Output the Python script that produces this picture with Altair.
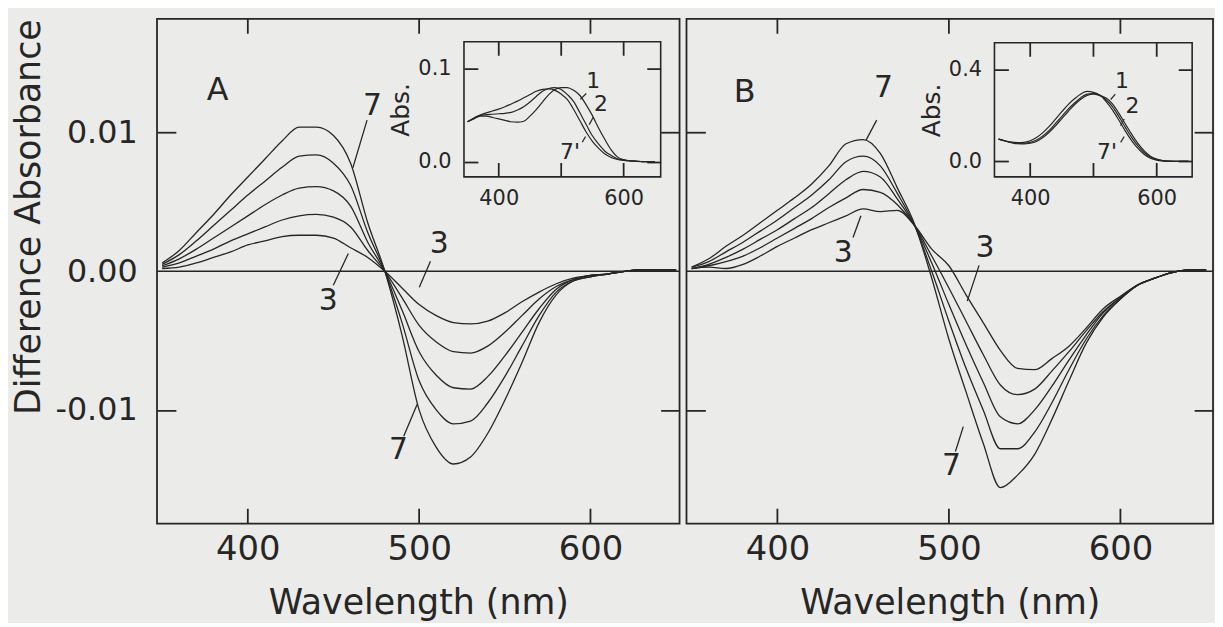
import altair as alt
import pandas as pd

INK = "#262626"
BG = "#ebebe9"
FONT = "DejaVu Sans"

# wavelength grid (nm)
WAVELENGTH = [350, 360, 370, 380, 390, 400, 410, 420, 430, 440, 450,
              460, 470, 480, 490, 500, 510, 520, 530, 540, 550,
              560, 570, 580, 590, 600, 610, 620, 630, 640, 650]

# ---- Panel A difference spectra (units of 1e-3 absorbance) ----
A_3 = [0.2, 0.3, 0.6, 1.0, 1.4, 1.9, 2.2, 2.5, 2.6, 2.6, 2.4, 1.7, 1.0, 0.0, -1.2, -2.4,
       -3.2, -3.7, -3.8, -3.6, -3.0, -2.2, -1.5, -0.9, -0.5, -0.3, -0.2, 0.0, 0.1, 0.1, 0.1]
A_4 = [0.3, 0.6, 1.1, 1.6, 2.2, 2.7, 3.2, 3.7, 4.0, 4.1, 3.9, 3.2, 1.5, 0.0, -1.9, -3.9,
       -5.1, -5.8, -5.9, -5.4, -4.4, -3.2, -2.0, -1.1, -0.6, -0.3, -0.2, 0.0, 0.1, 0.1, 0.1]
A_5 = [0.4, 0.9, 1.6, 2.4, 3.2, 4.0, 4.8, 5.5, 6.0, 6.1, 5.8, 4.7, 2.1, 0.0, -2.8, -5.8,
       -7.5, -8.4, -8.5, -7.6, -6.1, -4.4, -2.7, -1.3, -0.6, -0.3, -0.2, 0.0, 0.1, 0.1, 0.1]
A_6 = [0.5, 1.2, 2.2, 3.3, 4.4, 5.5, 6.5, 7.5, 8.3, 8.4, 7.8, 6.2, 2.8, 0.0, -3.7, -7.9,
       -10.0, -11.0, -10.8, -9.5, -7.6, -5.4, -3.2, -1.5, -0.7, -0.4, -0.2, 0.0, 0.1, 0.1, 0.1]
A_7 = [0.6, 1.5, 2.8, 4.1, 5.5, 6.8, 8.1, 9.4, 10.4, 10.4, 9.8, 7.8, 3.5, 0.0, -4.6, -10.0,
       -12.7, -13.9, -13.4, -11.7, -9.3, -6.6, -3.7, -1.7, -0.7, -0.4, -0.2, 0.0, 0.1, 0.1, 0.1]

# ---- Panel B difference spectra (units of 1e-3 absorbance) ----
B_3 = [0.2, 0.3, 0.2, 0.5, 1.1, 1.8, 2.4, 3.0, 3.5, 4.0, 4.5, 4.3, 4.4, 3.3, 1.6, 0.4,
       -1.7, -3.7, -5.7, -7.0, -7.1, -6.3, -5.4, -4.1, -2.7, -1.8, -1.0, -0.5, -0.1, 0.1, 0.1]
B_4 = [0.2, 0.4, 0.7, 1.1, 1.7, 2.4, 3.1, 3.8, 4.6, 5.3, 5.9, 5.7, 4.8, 3.3, 1.1, -1.2,
       -3.6, -6.0, -8.2, -8.9, -8.5, -7.2, -5.8, -4.3, -2.9, -1.9, -1.0, -0.5, -0.1, 0.1, 0.1]
B_5 = [0.2, 0.5, 1.0, 1.6, 2.3, 3.0, 3.8, 4.6, 5.6, 6.6, 7.2, 6.8, 5.2, 3.3, 0.6, -2.4,
       -5.3, -8.0, -10.5, -11.0, -10.0, -8.3, -6.4, -4.6, -3.0, -1.9, -1.0, -0.5, -0.1, 0.1, 0.1]
B_6 = [0.3, 0.7, 1.4, 2.1, 2.9, 3.7, 4.6, 5.5, 6.6, 7.9, 8.3, 7.6, 5.6, 3.3, 0.0, -3.6,
       -7.0, -10.0, -12.8, -12.8, -11.6, -9.5, -7.1, -4.9, -3.2, -2.0, -1.0, -0.5, -0.1, 0.1, 0.1]
B_7 = [0.3, 0.9, 1.8, 2.6, 3.5, 4.4, 5.3, 6.3, 7.6, 9.2, 9.5, 8.5, 6.0, 3.4, -0.5, -4.9,
       -8.7, -12.4, -15.6, -14.7, -13.2, -10.7, -7.9, -5.2, -3.3, -2.0, -1.0, -0.5, -0.1, 0.1, 0.1]

# ---- Inset absorption spectra (units of 1e-3 absorbance) ----
IA_1 = [43, 46, 49, 49, 47.5, 46, 44.5, 43, 42.5, 43.5, 49, 56, 64, 72, 77.5, 79.5,
        79.5, 76.5, 71, 61, 49.5, 36, 24, 13, 5.5, 2.5, 1.5, 1.0, 0.5, 0.3, 0.2]
IA_2 = [43, 46.5, 49.5, 50.5, 51, 51.5, 52, 53, 55.5, 59, 64, 70, 75.5, 78.5, 79.5, 77.5,
        72, 64.5, 52.5, 40, 28, 19, 11.5, 7, 3.5, 2, 1.2, 0.8, 0.5, 0.3, 0.2]
IA_7P = [43, 47, 50, 52.5, 54.5, 56.5, 59, 62, 65, 68.5, 72, 75.5, 77.5, 78, 76.5, 72.5,
         66.5, 56, 44, 32, 22, 14.5, 8.5, 4.8, 2.8, 1.8, 1.1, 0.7, 0.5, 0.3, 0.2]

IB_1 = [97, 89, 82, 77, 76, 79, 87, 104, 127, 155, 186, 217, 246, 270, 287, 292,
        286, 275, 250, 210, 165, 120, 80, 47, 23, 10, 4, 1.5, 0.6, 0.3, 0.2]
IB_2 = [97, 89, 83, 79, 79, 83, 93, 111, 135, 165, 196, 227, 254, 277, 292, 295,
        288, 268, 238, 196, 150, 106, 69, 39, 19, 8, 3, 1.2, 0.5, 0.3, 0.2]
IB_7P = [97, 90, 84, 82, 83, 90, 104, 125, 152, 184, 216, 247, 272, 293, 304, 300,
         288, 260, 224, 180, 134, 92, 58, 31, 14, 6, 2.5, 1, 0.5, 0.3, 0.2]

# ---- tick values ----
MAIN_X_TICKS = [400, 500, 600]
MAIN_Y_TICKS = [-0.01, 0.01]
MAIN_Y_LABELS = [-0.01, 0.0, 0.01]
INSET_X_TICKS = [400, 500, 600]
INSET_X_LABELS = [400, 600]

# ---- annotations (data coordinates) ----
A_LABEL_TEXT = ["7", "3", "3", "7"]
A_LABEL_X = [472.8, 447.0, 511.7, 487.9]
A_LABEL_Y = [0.0119, -0.00215, 0.0020, -0.0129]
A_LEAD_X1 = [469.6, 449.9, 506.6, 491.0]
A_LEAD_Y1 = [0.0109, -0.0010, 0.00072, -0.0119]
A_LEAD_X2 = [461.3, 458.7, 500.1, 498.8]
A_LEAD_Y2 = [0.00746, 0.00129, -0.00115, -0.0096]

B_LABEL_TEXT = ["7", "3", "3", "7"]
B_LABEL_X = [461.8, 438.4, 521.0, 501.5]
B_LABEL_Y = [0.0132, 0.0013, 0.0017, -0.01405]
B_LEAD_X1 = [457.9, 444.1, 517.6, 503.8]
B_LEAD_Y1 = [0.0109, 0.00244, 0.00043, -0.0130]
B_LEAD_X2 = [451.7, 448.7, 510.7, 508.4]
B_LEAD_Y2 = [0.00946, 0.0040, -0.00215, -0.0112]

IA_LABEL_TEXT = ["1", "2", "7'"]
IA_LABEL_X = [551.3, 563.5, 514.0]
IA_LABEL_Y = [0.0866, 0.0618, 0.0106]
IA_LEAD_X1 = [540.1, 551.3, 539.0]
IA_LEAD_Y1 = [0.0731, 0.0477, 0.0272]
IA_LEAD_X2 = [530.6, 544.9, 533.8]
IA_LEAD_Y2 = [0.0668, 0.0399, 0.0212]

IB_LABEL_TEXT = ["1", "2", "7'"]
IB_LABEL_X = [545.0, 561.7, 521.4]
IB_LABEL_Y = [0.350, 0.242, 0.040]
IB_LEAD_X1 = [534.5, 548.6, 548.6]
IB_LEAD_Y1 = [0.292, 0.184, 0.108]
IB_LEAD_X2 = [527.2, 542.9, 542.9]
IB_LEAD_Y2 = [0.269, 0.155, 0.083]


def long_table(series, scale, width):
    rows = []
    for name, vals in series.items():
        for w, v in zip(WAVELENGTH, vals):
            rows.append({"wl": w, "val": v / scale, "series": name, "sw": width})
    return pd.DataFrame(rows)


def vtick_rows(xticks, xdom, ydom, wpx, hpx, len_px, width):
    """Inward ticks at top and bottom edges as two-point line pieces (data units)."""
    dy = len_px * (ydom[1] - ydom[0]) / hpx
    skew = 0.002 * (xdom[1] - xdom[0]) / wpx
    rows = []
    for t in xticks:
        rows.append({"wl": t, "val": ydom[1], "series": "top%d" % t, "sw": width})
        rows.append({"wl": t + skew, "val": ydom[1] - dy, "series": "top%d" % t, "sw": width})
        rows.append({"wl": t, "val": ydom[0], "series": "bot%d" % t, "sw": width})
        rows.append({"wl": t + skew, "val": ydom[0] + dy, "series": "bot%d" % t, "sw": width})
    return pd.DataFrame(rows)


def tick_axis(orient, offset, size, values):
    """Axis that draws only inward-pointing ticks (placed inside via a negative offset)."""
    return alt.Axis(orient=orient, offset=offset, values=values, ticks=True, tickSize=size,
                    tickWidth=1.8, tickColor=INK, labels=False, domain=False, title="")


def carrier(df, xs, ys, xaxis, yaxis):
    """Invisible copy of a curve set whose only job is to carry axes."""
    return alt.Chart(df).mark_line(opacity=0).encode(
        x=alt.X("wl:Q", scale=xs, axis=xaxis), y=alt.Y("val:Q", scale=ys, axis=yaxis),
        detail="series:N")


def build_panel(cfg):
    W, H = cfg["w"], cfg["h"]
    ydom = [-0.0182, 0.0182]
    xs = alt.Scale(domain=cfg["xdom"], nice=False, zero=False)
    ys = alt.Scale(domain=ydom, nice=False, zero=False)
    curves = long_table(cfg["curves"], 1000.0, 1.3)
    main_lines_df = pd.concat([curves, vtick_rows(MAIN_X_TICKS, cfg["xdom"], ydom, W, H, 15, 1.8)],
                              ignore_index=True)

    # ---------------- main plot marks ----------------
    lines = alt.Chart(main_lines_df).mark_line(color=INK, interpolate="monotone").encode(
        x=alt.X("wl:Q", scale=xs, axis=None), y=alt.Y("val:Q", scale=ys, axis=None),
        detail="series:N", strokeWidth=alt.StrokeWidth("sw:Q", scale=None))
    zero = alt.Chart(pd.DataFrame({"z": [0.0]})).mark_rule(color=INK, strokeWidth=1.5).encode(
        y=alt.Y("z:Q", scale=ys, axis=None))
    ld = pd.DataFrame({"x1": cfg["ld_x1"], "y1": cfg["ld_y1"], "x2": cfg["ld_x2"], "y2": cfg["ld_y2"]})
    leaders = alt.Chart(ld).mark_rule(color=INK, strokeWidth=1.3).encode(
        x=alt.X("x1:Q", scale=xs, axis=None), x2="x2:Q",
        y=alt.Y("y1:Q", scale=ys, axis=None), y2="y2:Q")
    lab = pd.DataFrame({"t": cfg["lab_t"], "x": cfg["lab_x"], "y": cfg["lab_y"]})
    labels = alt.Chart(lab).mark_text(font=FONT, fontSize=30, color=INK, align="center",
                                      baseline="middle").encode(
        x=alt.X("x:Q", scale=xs, axis=None), y=alt.Y("y:Q", scale=ys, axis=None), text="t:N")
    letter = alt.Chart(pd.DataFrame({"t": [cfg["letter"]], "x": [cfg["letter_x"]], "y": [cfg["letter_y"]]})
                       ).mark_text(font=FONT, fontSize=32, color=INK, align="center", baseline="middle").encode(
        x=alt.X("x:Q", scale=xs, axis=None), y=alt.Y("y:Q", scale=ys, axis=None), text="t:N")
    main = alt.layer(lines, zero, leaders, labels, letter)

    # ---------------- inset marks ----------------
    L, R, T, B = cfg["in_box"]
    ixs = alt.Scale(domain=cfg["in_xdom"], range=[L, R], nice=False, zero=False)
    iys = alt.Scale(domain=cfg["in_ydom"], range=[B, T], nice=False, zero=False)
    icurves = long_table(cfg["inset"], 1000.0, 1.2)
    inset_lines_df = pd.concat([icurves, vtick_rows(INSET_X_TICKS, cfg["in_xdom"], cfg["in_ydom"],
                                                    R - L, B - T, 14, 1.8)], ignore_index=True)
    ilines = alt.Chart(inset_lines_df).mark_line(color=INK, interpolate="monotone").encode(
        x=alt.X("wl:Q", scale=ixs, axis=None), y=alt.Y("val:Q", scale=iys, axis=None),
        detail="series:N", strokeWidth=alt.StrokeWidth("sw:Q", scale=None))
    frame = alt.Chart(pd.DataFrame({"k": [1]})).mark_rect(
        fill="transparent", stroke=INK, strokeWidth=1.6).encode(
        x=alt.value(L), x2=alt.value(R), y=alt.value(T), y2=alt.value(B))
    ild = pd.DataFrame({"x1": cfg["ild_x1"], "y1": cfg["ild_y1"], "x2": cfg["ild_x2"], "y2": cfg["ild_y2"]})
    i_leaders = alt.Chart(ild).mark_rule(color=INK, strokeWidth=1.2).encode(
        x=alt.X("x1:Q", scale=ixs, axis=None), x2="x2:Q",
        y=alt.Y("y1:Q", scale=iys, axis=None), y2="y2:Q")
    ilab = pd.DataFrame({"t": cfg["il_t"], "x": cfg["il_x"], "y": cfg["il_y"]})
    i_labels = alt.Chart(ilab).mark_text(font=FONT, fontSize=22, color=INK, align="center",
                                         baseline="middle").encode(
        x=alt.X("x:Q", scale=ixs, axis=None), y=alt.Y("y:Q", scale=iys, axis=None), text="t:N")
    inset = alt.layer(ilines, frame, i_leaders, i_labels)

    # ---------------- axes: labels/titles and side ticks ----------------
    xaxis = alt.Axis(orient="bottom", values=MAIN_X_TICKS, title="Wavelength (nm)", labelFontSize=34,
                     labelPadding=36, labelBaseline="alphabetic", titleFontSize=35,
                     titleY=90, titleBaseline="alphabetic")
    if cfg["show_y"]:
        yaxis = alt.Axis(orient="left", values=MAIN_Y_LABELS,
                         labelExpr="datum.value < 0 ? '-' + format(-datum.value, '.2f') : format(datum.value, '.2f')",
                         title="Difference Absorbance", labelFontSize=32, labelPadding=20,
                         titleFontSize=35, titleX=-118, titleY=199, titleAngle=270,
                         titleAlign="center", titleBaseline="alphabetic")
    else:
        yaxis = None
    c1 = carrier(curves, xs, ys, xaxis, yaxis)
    c2 = carrier(curves, xs, ys, None, tick_axis("right", -19, 19, MAIN_Y_TICKS))
    c3 = carrier(curves, xs, ys, None, tick_axis("left", -19, 19, MAIN_Y_TICKS))

    ixaxis = alt.Axis(orient="bottom", offset=-(H - B), values=INSET_X_LABELS, labelFontSize=21,
                      labelPadding=28, labelBaseline="alphabetic", title="")
    iyaxis = alt.Axis(orient="left", offset=-L, values=[0.0, cfg["in_ytick"]], format=".1f",
                      labelFontSize=21, labelPadding=13, title="Abs.", titleFontSize=25,
                      titlePadding=4)
    iyt = [0.0, cfg["in_ytick"]]
    i1 = carrier(icurves, ixs, iys, ixaxis, iyaxis)
    i2 = carrier(icurves, ixs, iys, None, tick_axis("right", -(W - R + 14), 14, iyt))
    i3 = carrier(icurves, ixs, iys, None, tick_axis("left", -(L + 14), 14, iyt))

    return alt.layer(main, inset, c1, c2, c3, i1, i2, i3).resolve_scale(
        x="independent", y="independent").properties(width=W, height=H)


panel_a = build_panel({
    "w": 526, "h": 508, "xdom": [347, 652], "show_y": True,
    "curves": {"3": A_3, "4": A_4, "5": A_5, "6": A_6, "7": A_7},
    "lab_t": A_LABEL_TEXT, "lab_x": A_LABEL_X, "lab_y": A_LABEL_Y,
    "ld_x1": A_LEAD_X1, "ld_y1": A_LEAD_Y1, "ld_x2": A_LEAD_X2, "ld_y2": A_LEAD_Y2,
    "letter": "A", "letter_x": 382.3, "letter_y": 0.01305,
    "in_box": [309, 507, 23, 159], "in_xdom": [344.3, 659.3], "in_ydom": [-0.0159, 0.1283],
    "in_ytick": 0.1,
    "inset": {"1": IA_1, "2": IA_2, "7p": IA_7P},
    "il_t": IA_LABEL_TEXT, "il_x": IA_LABEL_X, "il_y": IA_LABEL_Y,
    "ild_x1": IA_LEAD_X1, "ild_y1": IA_LEAD_Y1, "ild_x2": IA_LEAD_X2, "ild_y2": IA_LEAD_Y2,
})

panel_b = build_panel({
    "w": 530, "h": 508, "xdom": [347, 654], "show_y": False,
    "curves": {"3": B_3, "4": B_4, "5": B_5, "6": B_6, "7": B_7},
    "lab_t": B_LABEL_TEXT, "lab_x": B_LABEL_X, "lab_y": B_LABEL_Y,
    "ld_x1": B_LEAD_X1, "ld_y1": B_LEAD_Y1, "ld_x2": B_LEAD_X2, "ld_y2": B_LEAD_Y2,
    "letter": "B", "letter_x": 380.9, "letter_y": 0.0129,
    "in_box": [310, 509, 24, 159], "in_xdom": [343.5, 656.0], "in_ydom": [-0.067, 0.515],
    "in_ytick": 0.4,
    "inset": {"1": IB_1, "2": IB_2, "7p": IB_7P},
    "il_t": IB_LABEL_TEXT, "il_x": IB_LABEL_X, "il_y": IB_LABEL_Y,
    "ild_x1": IB_LEAD_X1, "ild_y1": IB_LEAD_Y1, "ild_x2": IB_LEAD_X2, "ild_y2": IB_LEAD_Y2,
})

chart = alt.hconcat(panel_a, panel_b, spacing=3).configure(
    background=BG, padding={"left": 3, "top": 4, "right": 0, "bottom": 0}
).configure_view(stroke=INK, strokeWidth=1.8).configure_axis(
    grid=False, ticks=False, tickSize=0, domain=False, labelFont=FONT, titleFont=FONT,
    labelColor=INK, titleColor=INK, titleFontWeight="normal"
)

chart.save("out.html", embed_options={"renderer": "svg", "actions": False})
